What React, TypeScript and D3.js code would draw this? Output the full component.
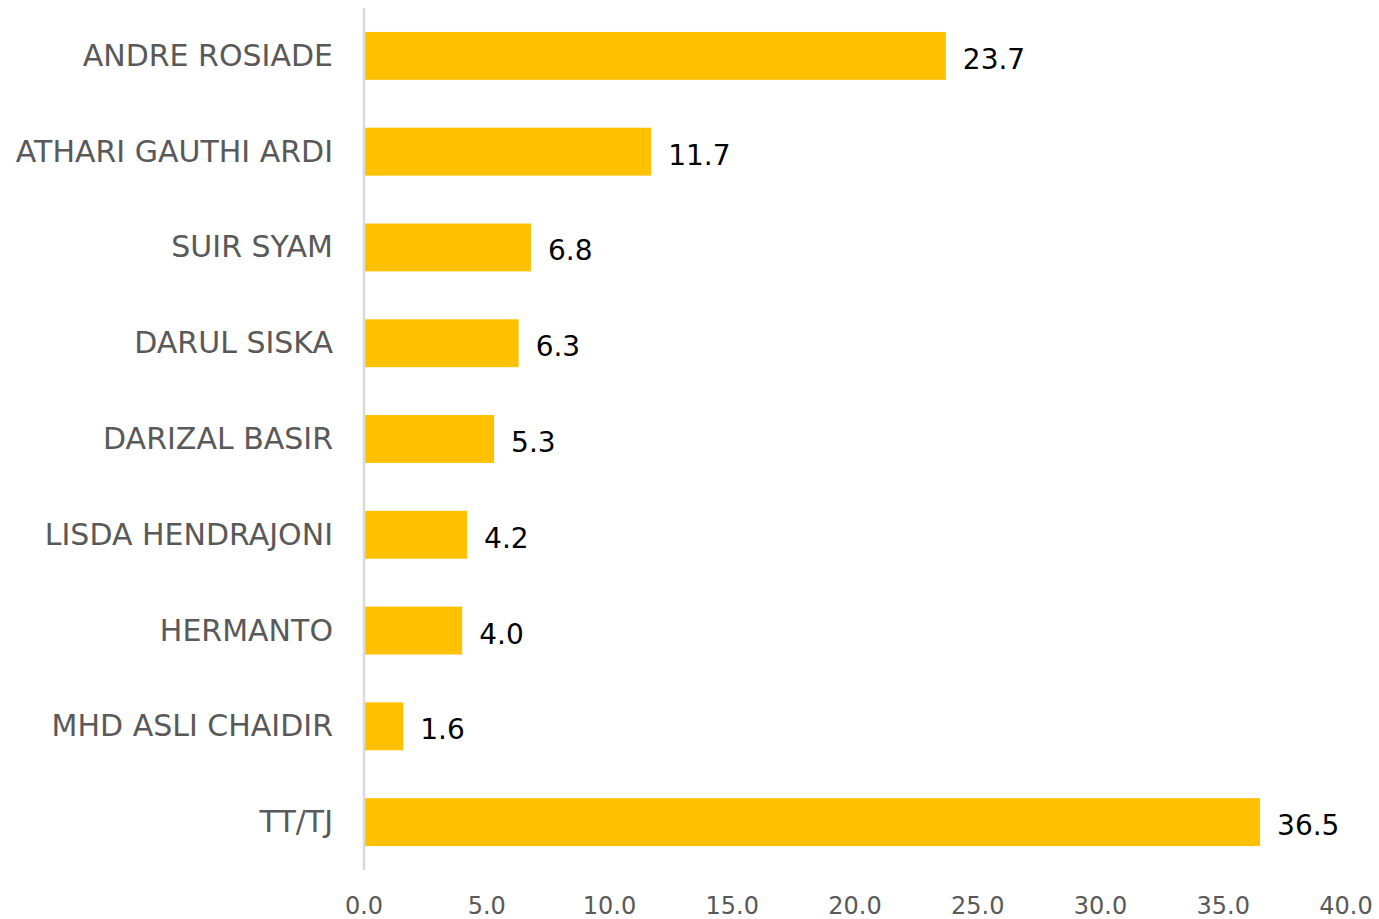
import React, { useRef, useEffect } from "react";
import * as d3 from "d3";

const candidates = [
  "ANDRE ROSIADE",
  "ATHARI GAUTHI ARDI",
  "SUIR SYAM",
  "DARUL SISKA",
  "DARIZAL BASIR",
  "LISDA HENDRAJONI",
  "HERMANTO",
  "MHD ASLI CHAIDIR",
  "TT/TJ",
];
const percentages = [23.7, 11.7, 6.8, 6.3, 5.3, 4.2, 4.0, 1.6, 36.5];
const xTicks = [0, 5, 10, 15, 20, 25, 30, 35, 40];

export default function App() {
  const ref = useRef<SVGSVGElement | null>(null);

  useEffect(() => {
    const width = 1379;
    const height = 919;
    const font = "'DejaVu Sans', sans-serif";

    d3.select(ref.current).selectAll("*").remove();

    const svg = d3
      .select(ref.current)
      .attr("width", width)
      .attr("height", height)
      .style("display", "block")
      .style("background", "#fff");

    const x = d3.scaleLinear().domain([0, 40]).range([364, 1346]);
    const y = d3
      .scaleBand()
      .domain(candidates)
      .range([8, 870])
      .paddingInner(0.5)
      .paddingOuter(0.25);

    const rows = candidates.map((c, i) => ({ label: c, value: percentages[i] }));
    const mid = (d: { label: string }) => y(d.label)! + y.bandwidth() / 2;

    svg
      .append("g")
      .selectAll("rect")
      .data(rows)
      .join("rect")
      .attr("x", x(0) + 1)
      .attr("y", (d) => y(d.label)!)
      .attr("width", (d) => x(d.value) - x(0) - 1)
      .attr("height", y.bandwidth())
      .attr("fill", "#FFC000");

    // vertical axis line
    svg
      .append("line")
      .attr("x1", x(0))
      .attr("x2", x(0))
      .attr("y1", 8)
      .attr("y2", 870)
      .attr("stroke", "#d9d9d9")
      .attr("stroke-width", 2.5);

    // category labels
    svg
      .append("g")
      .selectAll("text")
      .data(rows)
      .join("text")
      .attr("x", 333)
      .attr("y", (d) => mid(d) + 10)
      .attr("text-anchor", "end")
      .attr("font-family", font)
      .attr("font-size", 30)
      .attr("fill", "#595959")
      .text((d) => d.label);

    // value labels
    svg
      .append("g")
      .selectAll("text")
      .data(rows)
      .join("text")
      .attr("x", (d) => x(d.value) + 17)
      .attr("y", (d) => mid(d) + 13)
      .attr("font-family", font)
      .attr("font-size", 28)
      .attr("fill", "#000")
      .text((d) => d.value.toFixed(1));

    // x tick labels
    svg
      .append("g")
      .selectAll("text")
      .data(xTicks)
      .join("text")
      .attr("x", (d) => x(d))
      .attr("y", 914)
      .attr("text-anchor", "middle")
      .attr("font-family", font)
      .attr("font-size", 24)
      .attr("fill", "#595959")
      .text((d) => d.toFixed(1));
  }, []);

  return <svg ref={ref} style={{ position: "absolute", left: 0, top: 0 }}></svg>;
}
